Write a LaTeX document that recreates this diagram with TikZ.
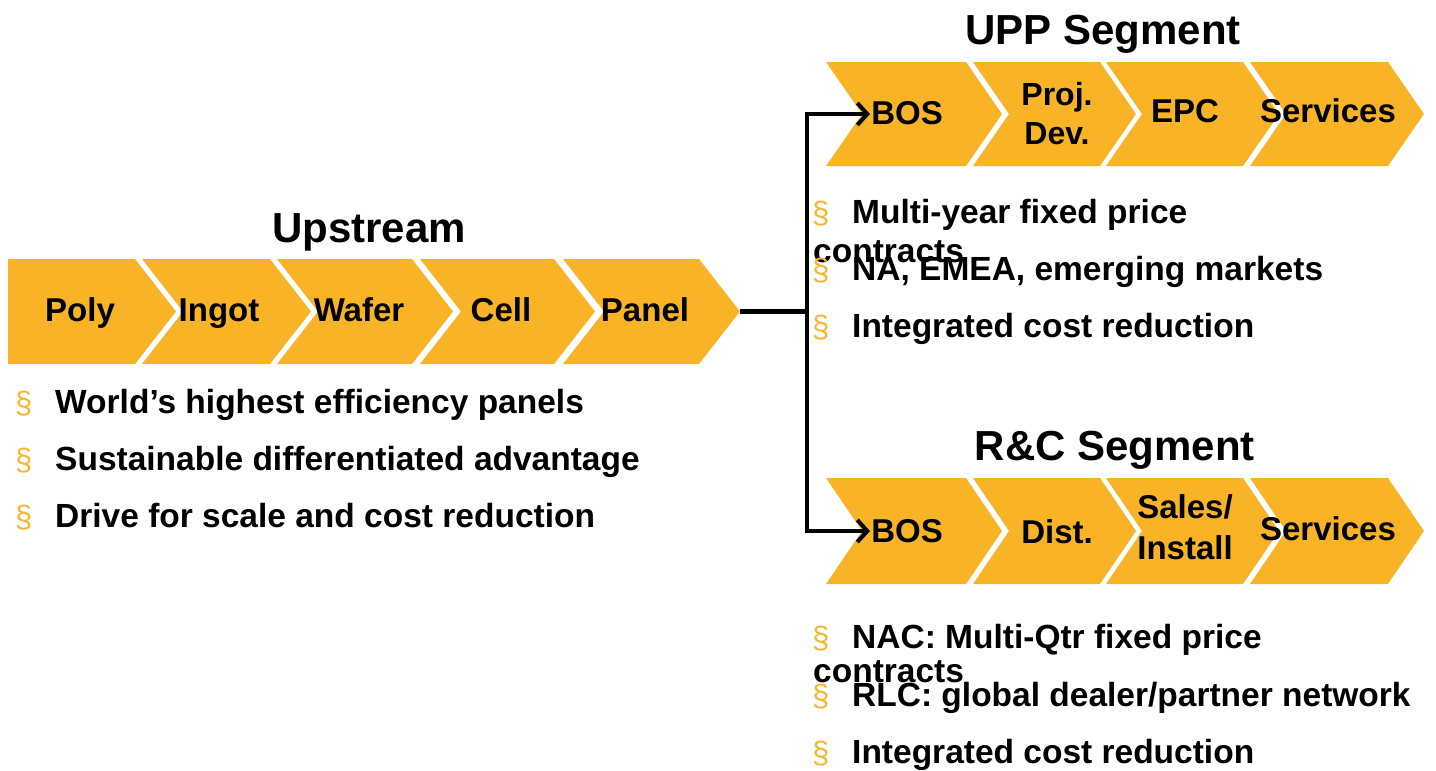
\documentclass[tikz,border=0pt]{standalone}
\usepackage{fontspec}
\setmainfont{Liberation Sans}
\usetikzlibrary{arrows.meta}
\definecolor{chevc}{HTML}{F8B426}
\definecolor{bulc}{HTML}{F9B62D}
% x0, x1 (top-right), ytop, ybot, tip depth, left notch depth
\newcommand\chevpath[6]{\fill[chevc] (#1,#3) -- (#2,#3) -- ({#2+#5},{(#3+#4)/2}) -- (#2,#4) -- (#1,#4) -- ({#1+#6},{(#3+#4)/2}) -- cycle;}
\tikzset{
  chevtext/.style={font=\bfseries\fontsize{33}{40}\selectfont, align=center, inner sep=0pt},
  twoline/.style={font=\bfseries\fontsize{32}{39}\selectfont, align=center, inner sep=0pt},
  titletext/.style={font=\bfseries\fontsize{42}{50}\selectfont, anchor=base, inner sep=0pt},
  bultext/.style={font=\bfseries\fontsize{33.5}{40}\selectfont, anchor=base west, inner sep=0pt},
  sect/.style={font=\fontsize{31}{36}\selectfont, text=bulc, anchor=base west, inner sep=0pt},
  conn/.style={line width=4.5pt, line join=miter, line cap=butt},
  connarrow/.style={conn, -{Straight Barb[length=10pt,width=22pt,line width=4pt]}}
}
\begin{document}
\begin{tikzpicture}[x=1pt,y=-1pt]
\useasboundingbox (0,0) rectangle (1436,771);
% Upstream chevrons
\chevpath{8}{135}{259}{364}{41}{0}
\chevpath{142}{270}{259}{364}{41}{41}
\chevpath{277}{412}{259}{364}{41}{41}
\chevpath{420}{554}{259}{364}{41}{41}
\chevpath{563}{699}{259}{364}{41}{41}
% UPP chevrons
\chevpath{826}{966}{62}{166}{36}{36}
\chevpath{973}{1100}{62}{166}{36}{36}
\chevpath{1106}{1243}{62}{166}{36}{36}
\chevpath{1250}{1388}{62}{166}{36}{36}
% R&C chevrons
\chevpath{826}{966}{478}{584}{36}{36}
\chevpath{973}{1100}{478}{584}{36}{36}
\chevpath{1106}{1243}{478}{584}{36}{36}
\chevpath{1250}{1388}{478}{584}{36}{36}

% titles
\node[titletext] (tup) at (369,242) {Upstream};
\node[titletext] (tupp) at (1103,45) {UPP Segment};
\node[titletext] (trc) at (1115,460) {R\&C Segment};

% upstream chevron texts
\node[chevtext, anchor=base] (poly) at (80,321) {Poly};
\node[chevtext, anchor=base] (ingot) at (219,321) {Ingot};
\node[chevtext, anchor=base] (wafer) at (359,321) {Wafer};
\node[chevtext, anchor=base] (cell) at (501,321) {Cell};
\node[chevtext, anchor=base] (panel) at (645,321) {Panel};

% UPP texts
\node[chevtext, anchor=base] (bos1) at (907,124) {BOS};
\node[twoline] (proj) at (1057,114) {Proj.\\Dev.};
\node[chevtext, anchor=base] (epc) at (1185,122) {EPC};
\node[chevtext, anchor=base] (serv1) at (1328,122) {Services};

% R&C texts
\node[chevtext, anchor=base] (bos2) at (907,542) {BOS};
\node[chevtext, anchor=base] (dist) at (1057,543) {Dist.};
\node[chevtext, font=\bfseries\fontsize{33}{41}\selectfont] (sales) at (1185,527) {Sales/\\Install};
\node[chevtext, anchor=base] (serv2) at (1328,540) {Services};

% connectors
\coordinate (ptip) at (740,311.5);
\coordinate (split) at (807,311.5);
\coordinate (uppin) at (870,114);
\coordinate (rcin) at (870,531);
\draw[conn] (ptip) -- (split);
\draw[connarrow] (split) |- (uppin);
\draw[connarrow] (split) |- (rcin);

% Upstream bullets
\node[sect] (s1) at (15,413) {§};
\node[bultext] (b1) at (55,413) {World’s highest efficiency panels};
\node[sect] (s2) at (15,470) {§};
\node[bultext] (b2) at (55,470) {Sustainable differentiated advantage};
\node[sect] (s3) at (15,527) {§};
\node[bultext] (b3) at (55,527) {Drive for scale and cost reduction};

% UPP bullets
\node[sect] (u1s) at (812,223) {§};
\node[bultext] (u1) at (852,223) {Multi-year fixed price};
\node[bultext] (u1c) at (813,262) {contracts};
\node[sect] (u2s) at (812,280) {§};
\node[bultext] (u2) at (852,280) {NA, EMEA, emerging markets};
\node[sect] (u3s) at (812,337) {§};
\node[bultext] (u3) at (852,337) {Integrated cost reduction};

% R&C bullets
\node[sect] (r1s) at (812,648) {§};
\node[bultext] (r1) at (852,648) {NAC: Multi-Qtr fixed price};
\node[bultext] (r1c) at (813,682) {contracts};
\node[sect] (r2s) at (812,706) {§};
\node[bultext] (r2) at (852,706) {RLC: global dealer/partner network};
\node[sect] (r3s) at (812,763) {§};
\node[bultext] (r3) at (852,763) {Integrated cost reduction};
\end{tikzpicture}
\end{document}
